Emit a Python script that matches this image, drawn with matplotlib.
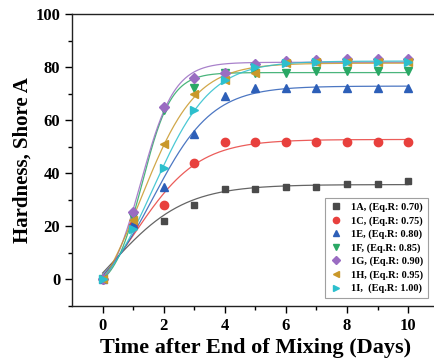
import numpy as np
import matplotlib
matplotlib.use("Agg")
import matplotlib.pyplot as plt

days = [0, 1, 2, 3, 4, 5, 6, 7, 8, 9, 10]
s_1A = [0, 20, 22, 28, 34, 34, 35, 35, 36, 36, 37]
s_1C = [0, 20, 28, 44, 52, 52, 52, 52, 52, 52, 52]
s_1E = [0, 21, 35, 55, 69, 72, 72, 72, 72, 72, 72]
s_1F = [0, 23.5, 64, 72, 78, 78, 78, 78.5, 78.5, 78.5, 78.5]
s_1G = [0, 25.3, 65, 76, 78, 81.4, 82.4, 82.7, 83, 83, 83]
s_1H = [0, 22.3, 51, 70, 75, 78, 81.5, 82, 82, 82, 82]
s_1I = [0, 19.2, 42, 64, 75, 80, 81.5, 82, 82, 82, 82]

labels = ["1A, (Eq.R: 0.70)", "1C, (Eq.R: 0.75)", "1E, (Eq.R: 0.80)",
          "1F, (Eq.R: 0.85)", "1G, (Eq.R: 0.90)", "1H, (Eq.R: 0.95)",
          "1I,  (Eq.R: 1.00)"]
series = [s_1A, s_1C, s_1E, s_1F, s_1G, s_1H, s_1I]
colors = ["#4a4a4a", "#e8403d", "#2d5fb8", "#2aa865", "#9a6cc2", "#c9982a", "#2cbfcd"]
markers = ["s", "o", "^", "v", "D", "<", ">"]
msizes = [5.0, 6.0, 6.0, 6.0, 5.5, 6.0, 6.0]


def boltzmann_fit(x, y):
    x = np.asarray(x, float)
    y = np.asarray(y, float)
    best = None
    for x0 in np.linspace(0.3, 4.0, 75):
        for dx in np.linspace(0.15, 2.5, 95):
            s = 1.0 / (1.0 + np.exp((x - x0) / dx))
            M = np.column_stack([s, 1 - s])
            coef, *_ = np.linalg.lstsq(M, y, rcond=None)
            r = np.sum((M @ coef - y) ** 2)
            if best is None or r < best[0]:
                best = (r, x0, dx, coef)
    _, x0, dx, (a1, a2) = best
    return lambda t: a2 + (a1 - a2) / (1 + np.exp((t - x0) / dx))


plt.rcParams['font.family'] = ['Liberation Serif', 'DejaVu Serif']
plt.rcParams['font.weight'] = 'bold'

fig = plt.figure(figsize=(4.35, 3.63), dpi=100)
ax = fig.add_axes([0.1655, 0.157, 0.843, 0.804])

xs = np.linspace(0, 10, 300)
for y, c, m, ms, lab in zip(series, colors, markers, msizes, labels):
    f = boltzmann_fit(days, y)
    ax.plot(xs, f(xs), color=c, lw=0.9, alpha=0.85, zorder=2)
    ax.plot(days, y, linestyle='none', marker=m, color=c, markersize=ms,
            label=lab, zorder=3)

ax.set_xlim(-1, 11)
ax.set_ylim(-10, 100)
ax.set_xticks([0, 2, 4, 6, 8, 10])
ax.set_xticks([1, 3, 5, 7, 9], minor=True)
ax.set_yticks([0, 20, 40, 60, 80, 100])
ax.set_yticks([-10, 10, 30, 50, 70, 90], minor=True)
ax.tick_params(which='major', direction='out', length=5, width=1, labelsize=12, top=False, right=False)
ax.tick_params(which='minor', direction='out', length=3, width=1, top=False, right=False)
for lab in ax.get_xticklabels() + ax.get_yticklabels():
    lab.set_fontweight('bold')
for sp in ax.spines.values():
    sp.set_linewidth(1.0)
    sp.set_color('#222222')
ax.spines['right'].set_visible(False)

ax.set_xlabel("Time after End of Mixing (Days)", fontsize=16, fontweight='bold', labelpad=3)
ax.set_ylabel("Hardness, Shore A", fontsize=15, fontweight='bold', labelpad=2)

leg = ax.legend(loc='lower right', bbox_to_anchor=(0.971, 0.027), borderaxespad=0,
                prop={'size': 7.5, 'weight': 'bold'},
                frameon=True, fancybox=False, edgecolor='#888888', markerscale=0.75,
                handlelength=1.2, handletextpad=0.9, borderpad=0.45, labelspacing=0.38)
leg.get_frame().set_linewidth(0.8)

fig.savefig("out.png", dpi=100)
